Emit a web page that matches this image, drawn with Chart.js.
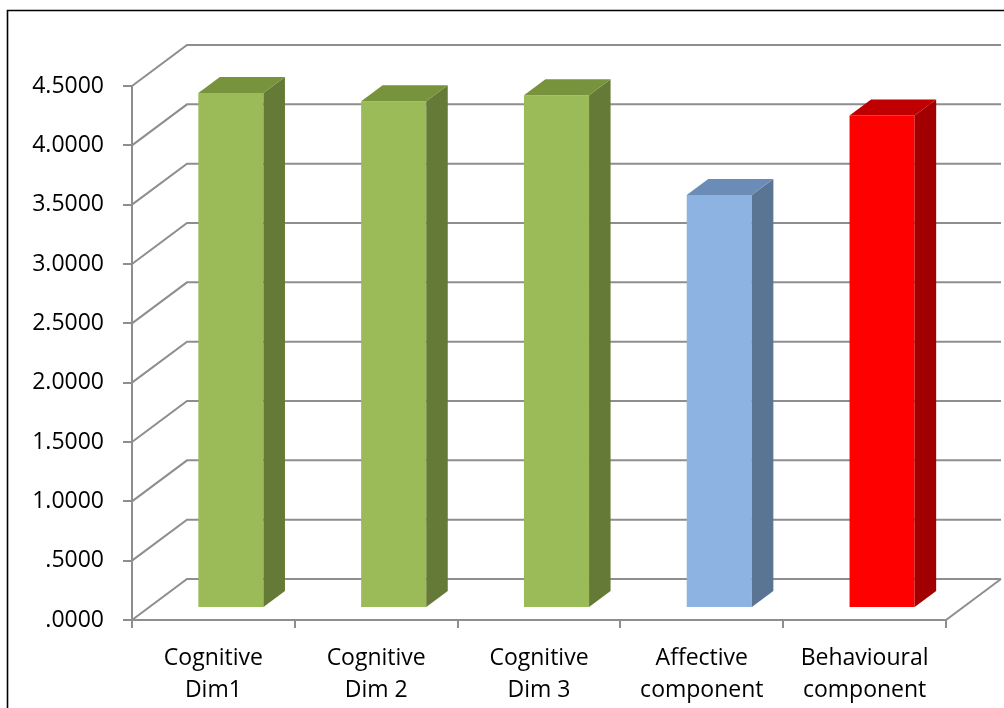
<!DOCTYPE html>
<html>
<head>
<meta charset="utf-8">
<script src="https://cdn.jsdelivr.net/npm/chart.js@4"></script>
<style>
html,body{margin:0;padding:0;background:#fff;}
#wrap{width:1004px;height:708px;position:relative;}
</style>
</head>
<body>
<div id="wrap"><canvas id="c" width="1004" height="708"></canvas></div>
<script>
const categories = [['Cognitive','Dim1'],['Cognitive','Dim 2'],['Cognitive','Dim 3'],['Affective','component'],['Behavioural','component']];
const values = [4.34, 4.27, 4.32, 3.48, 4.15];
const tickLabels = ['.0000','.5000','1.0000','1.5000','2.0000','2.5000','3.0000','3.5000','4.0000','4.5000'];
const frontColors = ['#9BBB59','#9BBB59','#9BBB59','#8DB3E2','#FF0000'];
const topColors = ['#77933C','#77933C','#77933C','#6C8CB8','#C00000'];
const sideColors = ['#647A36','#647A36','#647A36','#5A7594','#A20000'];

const GRID = '#8E8E8E';
const DEPTH = {dx:55, dy:-41};
const BAR_SHIFT = {dx:17.5, dy:-12};
const BAR_DEPTH = {dx:21.5, dy:-16};

const threeD = {
  id:'threeD',
  beforeDatasetsDraw(chart){
    const {ctx, scales:{x,y}} = chart;
    const left = x.left, right = x.right;
    ctx.save();
    ctx.strokeStyle = GRID;
    ctx.lineWidth = 2;
    y.ticks.forEach(t=>{
      const py = y.getPixelForValue(t.value);
      ctx.beginPath();
      ctx.moveTo(left, py);
      ctx.lineTo(left+DEPTH.dx, py+DEPTH.dy);
      ctx.lineTo(right+DEPTH.dx, py+DEPTH.dy);
      ctx.stroke();
    });
    const py0 = y.getPixelForValue(0);
    ctx.beginPath();
    ctx.moveTo(right, py0);
    ctx.lineTo(right+DEPTH.dx, py0+DEPTH.dy);
    ctx.stroke();
    ctx.restore();
    ctx.save();
    ctx.translate(BAR_SHIFT.dx, BAR_SHIFT.dy);
  },
  afterDatasetsDraw(chart){
    const {ctx} = chart;
    const meta = chart.getDatasetMeta(0);
    meta.data.forEach((bar,i)=>{
      const p = bar.getProps(['x','y','base','width'], true);
      const l = p.x - p.width/2, r = p.x + p.width/2;
      const dx = BAR_DEPTH.dx, dy = BAR_DEPTH.dy;
      ctx.fillStyle = sideColors[i];
      ctx.beginPath();
      ctx.moveTo(r, p.y); ctx.lineTo(r+dx, p.y+dy); ctx.lineTo(r+dx, p.base+dy); ctx.lineTo(r, p.base);
      ctx.closePath(); ctx.fill();
      ctx.fillStyle = topColors[i];
      ctx.beginPath();
      ctx.moveTo(l, p.y); ctx.lineTo(l+dx, p.y+dy); ctx.lineTo(r+dx, p.y+dy); ctx.lineTo(r, p.y);
      ctx.closePath(); ctx.fill();
    });
    ctx.restore();
  },
  afterDraw(chart){
    const {ctx} = chart;
    ctx.save();
    ctx.strokeStyle = '#000';
    ctx.lineWidth = 1.6;
    ctx.beginPath();
    ctx.moveTo(7.5, 720);
    ctx.lineTo(7.5, 10.5);
    ctx.lineTo(1010, 10.5);
    ctx.stroke();
    ctx.restore();
  }
};

new Chart(document.getElementById('c'), {
  type:'bar',
  data:{
    labels: categories,
    datasets:[{
      data: values,
      backgroundColor: frontColors,
      borderWidth: 0,
      barPercentage: 0.4,
      categoryPercentage: 1.0
    }]
  },
  options:{
    responsive:false,
    animation:false,
    layout:{padding:{top:86, right:58, left:0, bottom:0}},
    plugins:{legend:{display:false}, tooltip:{enabled:false}},
    scales:{
      x:{
        offset:true,
        grid:{offset:true, drawOnChartArea:false, drawTicks:true, tickLength:8, color:GRID, lineWidth:2},
        border:{display:true, color:GRID, width:2},
        ticks:{color:'#000', font:{family:'Open Sans', size:23, lineHeight:1.39}, padding:14, maxRotation:0, autoSkip:false},
        afterFit(s){ s.height = 88; }
      },
      y:{
        min:0, max:4.5,
        grid:{drawOnChartArea:false, drawTicks:true, tickLength:9, color:GRID, lineWidth:2},
        border:{display:true, color:GRID, width:2},
        ticks:{stepSize:0.5, color:'#000', font:{family:'Open Sans', size:23}, padding:19,
          callback:(v,i)=>tickLabels[i]},
        afterFit(s){ s.width = 132; }
      }
    }
  },
  plugins:[threeD]
});
</script>
</body>
</html>
